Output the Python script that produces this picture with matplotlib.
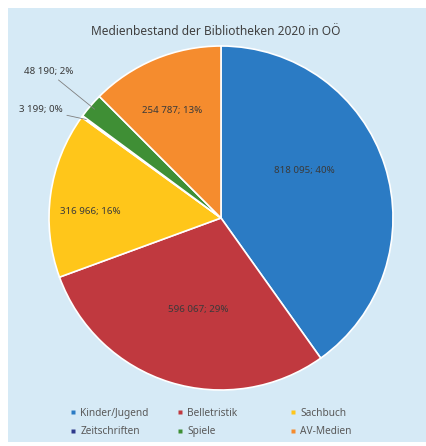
import numpy as np
import matplotlib.pyplot as plt
from matplotlib.lines import Line2D

plt.rcParams['font.family'] = ['Noto Sans', 'DejaVu Sans']

# data
categories = ['Kinder/Jugend', 'Belletristik', 'Sachbuch', 'Zeitschriften', 'Spiele', 'AV-Medien']
values = [818095, 596067, 316966, 3199, 48190, 254787]
labels = ['818 095; 40%', '596 067; 29%', '316 966; 16%', '3 199; 0%', '48 190; 2%', '254 787; 13%']
colors = ['#2B7BC4', '#C0393F', '#FFC61A', '#2F3A8C', '#3F8F35', '#F58C2E']
title = 'Medienbestand der Bibliotheken 2020 in OÖ'

W, H = 427, 446
fig = plt.figure(figsize=(W / 100, H / 100), dpi=100)
fig.patch.set_facecolor('white')

# light blue chart area behind everything
bg = fig.add_axes([8 / W, 4 / H, 1 - 8 / W, 1 - 12 / H], zorder=-5)
bg.set_facecolor('#D6EAF6')
bg.set_xticks([])
bg.set_yticks([])
for s in bg.spines.values():
    s.set_visible(False)

ax = fig.add_axes([49 / W, 56 / H, 344 / W, 344 / H])
ax.set_facecolor('none')
wedges, _ = ax.pie(values, colors=colors, startangle=90, counterclock=False,
                   radius=1, wedgeprops=dict(edgecolor='white', linewidth=1.2))
ax.set_xlim(-1, 1)
ax.set_ylim(-1, 1)
ax.axis('off')

# labels inside slices: (radius, angle offset in degrees)
inside = {0: (0.56, 12), 1: (0.55, 3), 2: (0.76, 5), 5: (0.69, 2)}
for i, w in enumerate(wedges):
    mid = np.deg2rad((w.theta1 + w.theta2) / 2)
    if i in inside:
        r, off = inside[i]
        a = mid + np.deg2rad(off)
        ax.text(r * np.cos(a), r * np.sin(a), labels[i], ha='center', va='center',
                fontsize=7, color='#3a3a3a')

# outside labels with leader lines
outside = {3: (-0.92, 0.63), 4: (-0.86, 0.85)}
for i, (tx, ty) in outside.items():
    w = wedges[i]
    mid = np.deg2rad((w.theta1 + w.theta2) / 2)
    px, py = np.cos(mid), np.sin(mid)
    ax.annotate(labels[i], xy=(px * 0.97, py * 0.97), xytext=(tx, ty), ha='right', va='center',
                fontsize=7, color='#3a3a3a', annotation_clip=False,
                arrowprops=dict(arrowstyle='-', color='#7f7f7f', lw=0.6,
                                shrinkA=1, shrinkB=0))

fig.text(0.505, 0.929, title, ha='center', va='center', fontsize=8.6, color='#404040')

# legend: three evenly placed columns, two rows
col_x = [70, 177, 290]
for c in range(3):
    idx = [c, c + 3]
    handles = [Line2D([], [], marker='s', linestyle='none', markersize=3.5,
                      markerfacecolor=colors[k], markeredgecolor='none') for k in idx]
    leg = fig.legend(handles, [categories[k] for k in idx], loc='upper left',
                     bbox_to_anchor=(col_x[c] / W, 1 - 408 / H), frameon=False,
                     fontsize=7.3, handlelength=0.6, handletextpad=0.4,
                     labelspacing=0.7, borderpad=0, borderaxespad=0)
    for t in leg.get_texts():
        t.set_color('#595959')

fig.savefig('out.png', dpi=100)
